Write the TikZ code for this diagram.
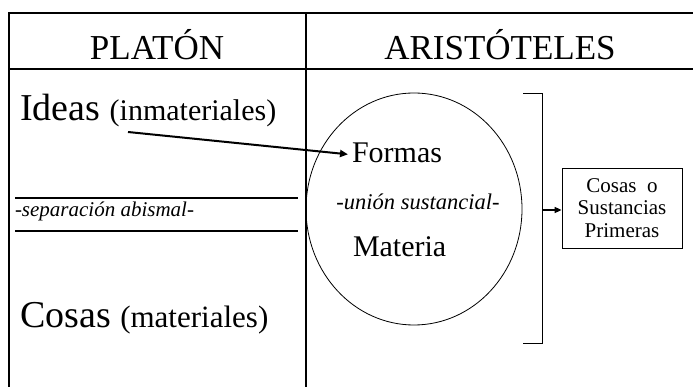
\documentclass[tikz,border=0pt]{standalone}
\usepackage{fontspec}
\setmainfont{Liberation Serif}
\usetikzlibrary{shapes.geometric,arrows.meta}
\begin{document}
\begin{tikzpicture}[x=1pt,y=-1pt,
  frame/.style={line width=2pt},
  thin/.style={line width=0.8pt},
  txt/.style={inner sep=0pt,outer sep=0pt},
  arr/.style={-{Triangle[length=8pt,width=7pt]}}]
\useasboundingbox (0,0) rectangle (693,387);
% frame
\draw[frame] (693,13) -- (9,13) -- (9,387);
\draw[frame] (9,69) -- (693,69);
\draw[frame] (306,13) -- (306,387);
% headers
\node[txt,anchor=base] (plat) at (157,60) {\fontsize{35}{40}\selectfont PLATÓN};
\node[txt,anchor=base] (arist) at (500,60) {\fontsize{35}{40}\selectfont ARISTÓTELES};
% Platon column
\node[txt,anchor=base west] (ideas) at (20,121) {\fontsize{38}{42}\selectfont Ideas \fontsize{30}{34}\selectfont(inmateriales)};
\draw[frame] (15,198) -- (298,198);
\draw[frame] (15,231) -- (298,231);
\node[txt,anchor=base west] (sep) at (15,217) {\fontsize{21}{24}\selectfont\itshape -separación abismal-};
\node[txt,anchor=base west] (cosas) at (20,327) {\fontsize{38}{42}\selectfont Cosas \fontsize{31}{34}\selectfont(materiales)};
% Aristoteles column
\node[draw,thin,ellipse,minimum width=216pt,minimum height=232pt,inner sep=0pt] (ell) at (414,209) {};
\node[txt,anchor=base west] (formas) at (352,163) {\fontsize{30}{34}\selectfont Formas};
\node[txt,anchor=base] (union) at (418,210) {\fontsize{22.5}{26}\selectfont\itshape -unión sustancial-};
\node[txt,anchor=base west] (materia) at (353,257) {\fontsize{30}{34}\selectfont Materia};
\coordinate (istart) at (128,132);
\draw[line width=2pt,arr] (istart) -- ([xshift=-4pt,yshift=-1pt]formas.west);
% bracket
\coordinate (bt) at (523,93);
\coordinate (bb) at (523,343);
\coordinate (bm) at (542,210);
\draw[thin] (bt) -- (542,93) -- (542,343) -- (bb);
% box
\node[draw,thin,minimum width=120pt,minimum height=80pt,inner sep=0pt,align=center,
  font=\fontsize{21}{22.5}\selectfont] (box) at (622,208) {Cosas\ \ o\\Sustancias\\Primeras};
\draw[line width=1.5pt,-{Triangle[length=7pt,width=6pt]}] (bm) -- (bm -| box.west);
\end{tikzpicture}
\end{document}
